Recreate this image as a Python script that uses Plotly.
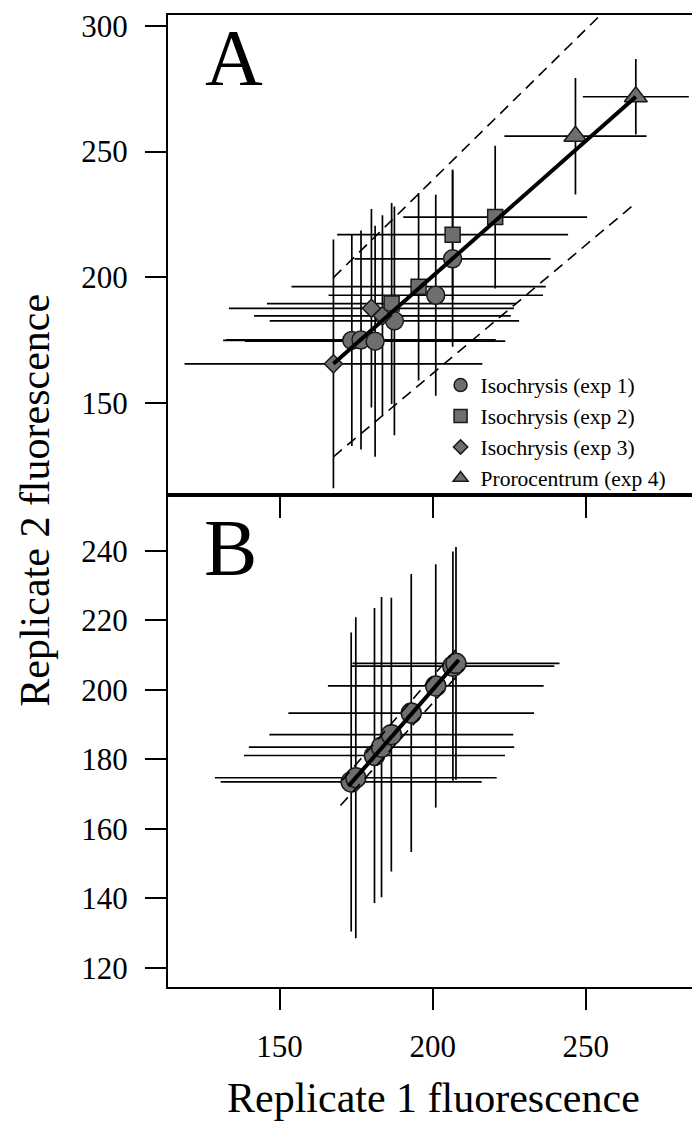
import plotly.graph_objects as go

# ---------------- data ----------------
# Panel A
exp1_x = [173.6, 176.6, 181.2, 187.5, 201.0, 206.5]
exp1_y = [174.8, 175.0, 174.5, 182.6, 192.8, 207.3]
exp1_xerr = [42.0, 44.0, 42.5, 40.7, 35.0, 32.0]
exp1_yerr = [42.0, 43.6, 46.0, 45.5, 40.0, 35.0]

exp2_x = [186.6, 195.4, 206.5, 220.4]
exp2_y = [189.5, 196.2, 216.9, 223.9]
exp2_xerr = [40.7, 41.5, 37.7, 30.0]
exp2_yerr = [40.0, 37.3, 26.0, 28.4]

exp3_x = [167.6, 180.0, 183.6]
exp3_y = [165.5, 187.6, 184.6]
exp3_xerr = [48.6, 46.5, 41.9]
exp3_yerr = [49.5, 39.5, 40.0]

exp4_x = [246.6, 266.3]
exp4_y = [256.1, 271.8]
exp4_xerr = [23.2, 17.3]
exp4_yerr = [23.2, 15.0]

fitA_x = [167.6, 266.3]
fitA_y = [165.5, 271.8]
upperA_y = [199.8, 318.2]
lowerA_y = [128.5, 229.5]

# Panel B
b_x = [173.4, 174.9, 181.0, 183.3, 186.5, 193.0, 201.0, 206.6, 207.6]
b_y = [173.5, 174.7, 181.1, 183.5, 187.1, 193.3, 201.1, 206.8, 207.6]
b_xerr = [42.6, 46.0, 42.6, 43.3, 39.8, 40.1, 35.2, 33.1, 33.8]
b_yerr = [43.0, 46.2, 42.4, 43.2, 39.4, 40.0, 35.0, 33.0, 33.5]

fitB_x = [172.5, 208.5]
fitB_y = [172.3, 208.6]
upperB_x = [170.5, 209.0]
upperB_y = [174.0, 213.0]
lowerB_x = [169.9, 210.0]
lowerB_y = [166.7, 206.0]

legend_names = ["Isochrysis (exp 1)", "Isochrysis (exp 2)",
                "Isochrysis (exp 3)", "Prorocentrum (exp 4)"]

xticks = [150, 200, 250]
yticksA = [150, 200, 250, 300]
yticksB = [120, 140, 160, 180, 200, 220, 240]

# ---------------- style ----------------
FONT = "Liberation Serif"
FILL = "#6e6e6e"
EDGE = "#1a1a1a"
EB = dict(type="data", symmetric=True, color="black", thickness=1.7, width=0)

fig = go.Figure()

def err_trace(x, y, xe, ye, xa, ya):
    fig.add_trace(go.Scatter(
        x=x, y=y, mode="markers", xaxis=xa, yaxis=ya, showlegend=False,
        marker=dict(size=1, color="rgba(0,0,0,0)"),
        error_x=dict(array=xe, **EB), error_y=dict(array=ye, **EB),
        hoverinfo="skip"))

def pt_trace(x, y, sym, size, xa, ya):
    fig.add_trace(go.Scatter(
        x=x, y=y, mode="markers", xaxis=xa, yaxis=ya, showlegend=False,
        marker=dict(symbol=sym, size=size, color=FILL,
                    line=dict(color=EDGE, width=1.5))))

# Panel A error bars, then markers
err_trace(exp1_x, exp1_y, exp1_xerr, exp1_yerr, "x", "y")
err_trace(exp2_x, exp2_y, exp2_xerr, exp2_yerr, "x", "y")
err_trace(exp3_x, exp3_y, exp3_xerr, exp3_yerr, "x", "y")
err_trace(exp4_x, exp4_y, exp4_xerr, exp4_yerr, "x", "y")
pt_trace(exp1_x, exp1_y, "circle", 18, "x", "y")
pt_trace(exp2_x, exp2_y, "square", 15, "x", "y")
pt_trace(exp3_x, exp3_y, "diamond", 14, "x", "y")
pt_trace(exp4_x, exp4_y, "triangle-up", 20, "x", "y")

# Panel A lines
fig.add_trace(go.Scatter(x=fitA_x, y=fitA_y, mode="lines", showlegend=False,
                         line=dict(color="black", width=4), xaxis="x", yaxis="y"))
for yy in (upperA_y, lowerA_y):
    fig.add_trace(go.Scatter(x=fitA_x, y=yy, mode="lines", showlegend=False,
                             line=dict(color="black", width=1.6, dash="11px,7px"),
                             xaxis="x", yaxis="y"))

# Panel B
err_trace(b_x, b_y, b_xerr, b_yerr, "x2", "y2")
pt_trace(b_x, b_y, "circle", 20, "x2", "y2")
fig.add_trace(go.Scatter(x=fitB_x, y=fitB_y, mode="lines", showlegend=False,
                         line=dict(color="black", width=4), xaxis="x2", yaxis="y2"))
fig.add_trace(go.Scatter(x=upperB_x, y=upperB_y, mode="lines", showlegend=False,
                         line=dict(color="black", width=1.6, dash="11px,7px"),
                         xaxis="x2", yaxis="y2"))
fig.add_trace(go.Scatter(x=lowerB_x, y=lowerB_y, mode="lines", showlegend=False,
                         line=dict(color="black", width=1.6, dash="11px,7px"),
                         xaxis="x2", yaxis="y2"))

# Legend entries
for name, sym in zip(legend_names, ["circle", "square", "diamond", "triangle-up"]):
    fig.add_trace(go.Scatter(x=[None], y=[None], mode="markers", name=name,
                             marker=dict(symbol=sym, size=13 if sym != "diamond" else 11,
                                         color=FILL, line=dict(color=EDGE, width=1.5)),
                             xaxis="x", yaxis="y"))

axis_common = dict(showgrid=False, zeroline=False, showline=True, linecolor="black",
                   linewidth=2, mirror=True, ticks="outside", ticklen=21, tickwidth=2,
                   tickcolor="black", ticklabeloverflow="allow",
                   tickfont=dict(family=FONT, size=31, color="black"))

XR = [113.6, 286.6]
split = 0.5057
fig.update_layout(
    width=700, height=1125,
    margin=dict(l=160, r=10, t=1, b=145.5),
    paper_bgcolor="white", plot_bgcolor="white",
    font=dict(family=FONT, color="black"),
    xaxis=dict(domain=[0, 1], anchor="y", range=XR, tickvals=xticks,
               showticklabels=False, **axis_common),
    yaxis=dict(domain=[split, 1], anchor="x", range=[113.1, 304.35], tickvals=yticksA,
               ticklabelstandoff=11, **axis_common),
    xaxis2=dict(domain=[0, 1], anchor="y2", range=XR, tickvals=xticks,
                ticklabelstandoff=10, **axis_common),
    yaxis2=dict(domain=[0, split], anchor="x2", range=[114.5, 255.9], tickvals=yticksB,
                ticklabelstandoff=11, **axis_common),
    showlegend=True,
    legend=dict(x=0.5143, y=0.6403, xanchor="left", yanchor="top",
                bgcolor="rgba(0,0,0,0)", borderwidth=0,
                font=dict(family=FONT, size=21.5, color="black"),
                tracegroupgap=0, itemsizing="trace"),
    annotations=[
        dict(text="A", x=0.1245, y=0.9555, xref="paper", yref="paper",
             xanchor="center", yanchor="middle", showarrow=False,
             font=dict(family=FONT, size=80, color="black")),
        dict(text="B", x=0.117, y=0.4518, xref="paper", yref="paper",
             xanchor="center", yanchor="middle", showarrow=False,
             font=dict(family=FONT, size=80, color="black")),
        dict(text="Replicate 1 fluorescence", x=0.5, y=-0.1139, xref="paper", yref="paper",
             xanchor="center", yanchor="middle", showarrow=False,
             font=dict(family=FONT, size=42, color="black")),
        dict(text="Replicate 2 fluorescence", x=-0.251, y=0.5013, xref="paper", yref="paper",
             xanchor="center", yanchor="middle", showarrow=False, textangle=-90,
             font=dict(family=FONT, size=42, color="black")),
    ],
)

fig.write_html("out.html")
